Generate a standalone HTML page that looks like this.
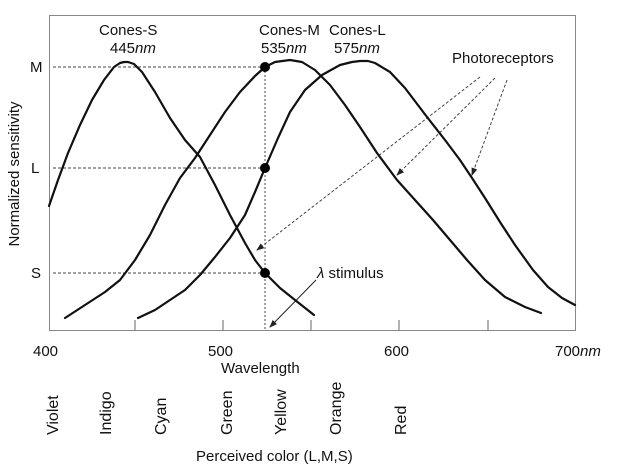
<!DOCTYPE html>
<html><head><style>body{margin:0;background:#fff}svg{display:block}text{font-family:"Liberation Sans",Arial,sans-serif;fill:#111}</style></head>
<body>
<svg width="625" height="468" viewBox="0 0 625 468">
<defs><marker id="a" markerWidth="8" markerHeight="8" refX="7" refY="4" orient="auto" markerUnits="userSpaceOnUse"><path d="M0,1 L8,4 L0,7z" fill="#222"/></marker></defs>
<rect x="49.5" y="15.5" width="526" height="315" fill="none" stroke="#888" stroke-width="1"/>
<g stroke="#666" stroke-width="1"><line x1="135" y1="330" x2="135" y2="320"/><line x1="223" y1="330" x2="223" y2="320"/><line x1="311" y1="330" x2="311" y2="320"/><line x1="399" y1="330" x2="399" y2="320"/><line x1="488" y1="330" x2="488" y2="320"/></g>
<g stroke="#444" stroke-width="1" stroke-dasharray="3,2" fill="none">
<line x1="53" y1="67" x2="265" y2="67"/><line x1="53" y1="168" x2="265" y2="168"/><line x1="53" y1="273" x2="265" y2="273"/>
<line x1="265" y1="67" x2="265" y2="330" stroke-dasharray="2,2"/>
<line x1="480" y1="77" x2="257" y2="250" marker-end="url(#a)"/>
<line x1="495" y1="78" x2="397" y2="175" marker-end="url(#a)"/>
<line x1="507" y1="80" x2="472" y2="175" marker-end="url(#a)"/>
</g>
<line x1="316" y1="280" x2="270" y2="327" stroke="#222" stroke-width="1" marker-end="url(#a)"/>
<g fill="none" stroke="#111" stroke-width="2.2" stroke-linejoin="round" stroke-linecap="round">
<polyline points="49,206 58,180 68,153 80,125 92,100 104,80 114,67 120,63 124,62 128,62 134,64 142,72 155,92 170,118 185,140 200,157 215,185 230,215 245,243 255,260 265,273 280,288 295,300 314,315"/>
<polyline points="65,318 85,305 105,292 120,280 135,260 150,235 165,205 180,178 195,158 210,135 225,112 240,92 255,76 265,67 275,62 290,60 302,62 315,70 330,85 345,105 360,127 377,153 397,180 415,200 433,220 450,240 467,260 485,280 505,297 525,307 541,313"/>
<polyline points="138,318 155,310 170,300 185,290 200,275 215,257 230,238 245,215 255,192 265,168 278,138 290,112 305,90 322,75 340,65 352,62 360,61 368,61 375,63 390,72 405,88 427,117 445,140 460,160 472,178 485,198 500,222 515,245 533,270 548,287 562,298 575,305"/>
</g>
<g fill="#000"><circle cx="265" cy="67" r="5"/><circle cx="265" cy="168" r="5"/><circle cx="265" cy="273" r="5"/></g>
<g font-size="15">
<text x="99" y="35">Cones-S</text><text x="110" y="53">445<tspan font-style="italic">nm</tspan></text>
<text x="259" y="35">Cones-M</text><text x="261" y="53">535<tspan font-style="italic">nm</tspan></text>
<text x="329" y="35">Cones-L</text><text x="334" y="53">575<tspan font-style="italic">nm</tspan></text>
<text x="452" y="63">Photoreceptors</text>
<text x="317" y="278"><tspan font-style="italic">λ</tspan> stimulus</text>
<text x="30" y="72">M</text><text x="31" y="173">L</text><text x="31" y="278">S</text>
<text transform="translate(19,174) rotate(-90)" text-anchor="middle">Normalized sensitivity</text>
<text x="33" y="356">400</text><text x="208" y="356">500</text><text x="384" y="356">600</text><text x="555" y="356">700<tspan font-style="italic">nm</tspan></text>
<text x="221" y="373">Wavelength</text>
<g font-size="16">
<g transform="translate(58,435) rotate(-90)"><text>Violet</text></g>
<g transform="translate(111,435) rotate(-90)"><text>Indigo</text></g>
<g transform="translate(166,435) rotate(-90)"><text>Cyan</text></g>
<g transform="translate(232,435) rotate(-90)"><text>Green</text></g>
<g transform="translate(286,435) rotate(-90)"><text>Yellow</text></g>
<g transform="translate(341,435) rotate(-90)"><text>Orange</text></g>
<g transform="translate(406,435) rotate(-90)"><text>Red</text></g>
</g>
<text x="196" y="461">Perceived color (L,M,S)</text>
</g>
</svg>
</body></html>
